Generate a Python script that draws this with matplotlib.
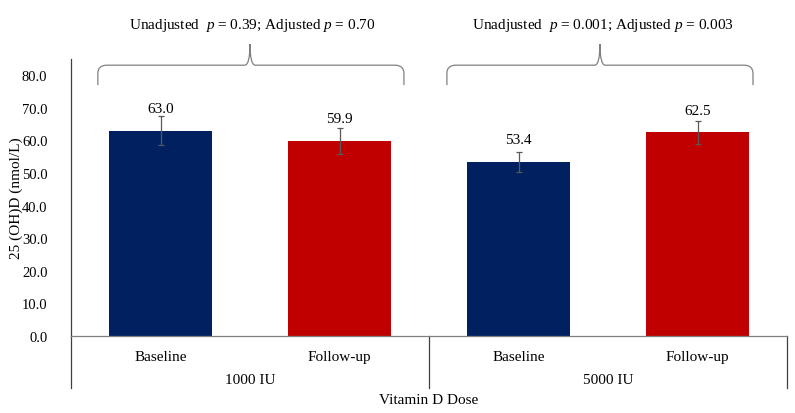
import matplotlib
matplotlib.use("Agg")
import matplotlib.pyplot as plt
from matplotlib.path import Path
from matplotlib.patches import PathPatch

plt.rcParams['font.family'] = ['Liberation Serif', 'DejaVu Serif']
plt.rcParams['mathtext.fontset'] = 'custom'
plt.rcParams['mathtext.rm'] = 'Liberation Serif'
plt.rcParams['mathtext.it'] = 'Liberation Serif:italic'

# data
categories = ['Baseline', 'Follow-up', 'Baseline', 'Follow-up']
groups = ['1000 IU', '5000 IU']
values = [63.0, 59.9, 53.4, 62.5]
errors = [4.5, 3.9, 3.0, 3.5]
colors = ['#002060', '#C00000', '#002060', '#C00000']
pvals = ['Unadjusted  $p$ = 0.39; Adjusted $p$ = 0.70',
         'Unadjusted  $p$ = 0.001; Adjusted $p$ = 0.003']

fig = plt.figure(figsize=(7.95, 4.14), dpi=100)
ax = fig.add_axes([71 / 795, 77 / 414, 716 / 795, 277 / 414])

x = list(range(len(values)))
ax.bar(x, values, width=0.57, color=colors)
ax.errorbar(x, values, yerr=errors, fmt='none', ecolor='#595959',
            elinewidth=0.9, capsize=2, capthick=0.9)
for xi, v in zip(x, values):
    ax.annotate(f'{v:.1f}', (xi, v), xytext=(0, 16), textcoords='offset points',
                ha='center', va='center', fontsize=11)

ax.set_xlim(-0.5, 3.5)
ax.set_ylim(0, 85)
ax.set_yticks([0, 10, 20, 30, 40, 50, 60, 70, 80])
ax.set_yticklabels([f'{t:.1f}' for t in range(0, 90, 10)])
ax.tick_params(axis='y', length=0, pad=17, labelsize=10.5)
ax.set_xticks(x)
ax.set_xticklabels(categories)
ax.tick_params(axis='x', length=0, pad=10, labelsize=11)

for s in ['top', 'right']:
    ax.spines[s].set_visible(False)
ax.spines['left'].set_color('#404040')
ax.spines['left'].set_linewidth(0.9)
ax.spines['bottom'].set_color('#808080')
ax.spines['bottom'].set_linewidth(0.9)

# group separators below axis
for xs in [-0.5, 1.5, 3.5]:
    ax.plot([xs, xs], [0, -16], color='#404040', lw=0.9, clip_on=False)
for gi, g in enumerate(groups):
    ax.text(0.5 + 2 * gi, -13.3, g, ha='center', va='center', fontsize=11)
ax.text(1.5, -19.6, 'Vitamin D Dose', ha='center', va='center', fontsize=11)
ax.set_ylabel('25 (OH)D (nmol/L)', fontsize=11, labelpad=-1)


def brace(x0, x1, xc, yb=77.0, yh=83.1, yt=89.6):
    verts = [(x0, yb), (x0, yh - 2.5), (x0, yh), (x0 + 0.05, yh),
             (xc - 0.03, yh), (xc, yh), (xc, yt),
             (xc, yh), (xc + 0.03, yh),
             (x1 - 0.05, yh), (x1, yh), (x1, yh - 2.5), (x1, yb)]
    codes = [Path.MOVETO, Path.LINETO, Path.CURVE3, Path.CURVE3,
             Path.LINETO, Path.CURVE3, Path.CURVE3,
             Path.CURVE3, Path.CURVE3,
             Path.LINETO, Path.CURVE3, Path.CURVE3, Path.LINETO]
    p = PathPatch(Path(verts, codes), fill=False, edgecolor='#808080',
                  lw=0.9, clip_on=False)
    ax.add_patch(p)


brace(-0.35, 1.36, 0.5)
brace(1.60, 3.31, 2.455)
ax.text(0.51, 95.6, pvals[0], ha='center', va='center', fontsize=11, clip_on=False)
ax.text(2.47, 95.6, pvals[1], ha='center', va='center', fontsize=11, clip_on=False)

fig.savefig('out.png', dpi=100)
